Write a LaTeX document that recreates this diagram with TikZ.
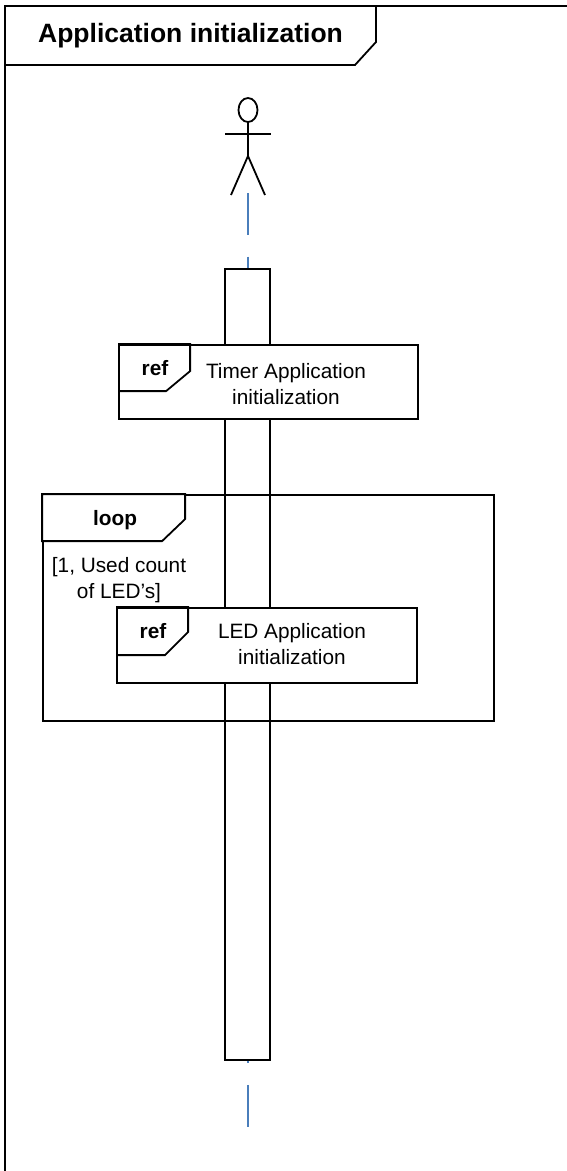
\documentclass[tikz,border=0pt]{standalone}
\usepackage{fontspec}
\setmainfont{Liberation Sans}
\usetikzlibrary{positioning}
\definecolor{lifeblue}{HTML}{4A7EBB}

\begin{document}
\begin{tikzpicture}[x=1pt, y=-1pt, line width=1.8pt,
    boxnode/.style={draw, fill=white, inner sep=0pt},
    txt/.style={anchor=base, align=center, font=\fontsize{20.8}{25.7}\selectfont},
    boldtxt/.style={anchor=base, font=\fontsize{20.8}{25.7}\selectfont\bfseries},
    lifeline/.style={draw=lifeblue, line width=1.6pt, dash pattern=on 42pt off 21.7pt}]
    \useasboundingbox (0,0) rectangle (566,1171);

    % Draw frame
    \coordinate (frame) at (5,6);
    \draw[line width=2pt] (5,1180) -- (frame) -- (575,6);
    \draw (frame) -- (376,6) -- (376,42) -- (355,65) -- (5,65);
    \node[anchor=base, font=\fontsize{26.5}{30}\selectfont\bfseries] (title) at (190.5,42.7) {Application initialization};

    % Draw actor
    \coordinate (actor) at (248,110);
    \draw (actor) ellipse [x radius=9.5, y radius=12];
    \draw (248,122) -- (248,156);
    \draw (225,134) -- (271,134);
    \draw (231,195) -- (248,156) -- (265,195);

    % Draw lifeline
    \coordinate (lifetop) at (248,193);
    \coordinate (lifeend) at (248,1127);
    \draw[lifeline] (lifetop) -- (lifeend);
    \node[boxnode, minimum width=45pt, minimum height=791pt] (act) at (247.5,664.5) {};

    % Draw loop
    \node[draw, inner sep=0pt, minimum width=451pt, minimum height=226pt] (loop) at (268.5,608) {};
    \draw[fill=white] (loop.north west) -- ++(143,0) -- ++(0,25) -- ++(-23,22) -- ++(-120,0) -- cycle;
    \node[boldtxt] (looptxt) at (115,525) {loop};
    \node[txt] (guard) at (119,598) {[1, Used count\\of LED’s]};

    % Draw refs
    \node[boxnode, minimum width=299pt, minimum height=74pt] (timerref) at (268.5,382) {};
    \draw (timerref.north west) -- ++(72,0) -- ++(0,27) -- ++(-24,20) -- ++(-48,0);
    \node[boldtxt] (timertag) at (155,375) {ref};
    \node[txt] (timertxt) at (286,404) {Timer Application\\initialization};

    \node[boxnode, minimum width=300pt, minimum height=75pt] (ledref) at (267,645.5) {};
    \draw (ledref.north west) -- ++(72,0) -- ++(0,25) -- ++(-23,23) -- ++(-49,0);
    \node[boldtxt] (ledtag) at (153,638) {ref};
    \node[txt] (ledtxt) at (292,664) {LED Application\\initialization};
\end{tikzpicture}
\end{document}
